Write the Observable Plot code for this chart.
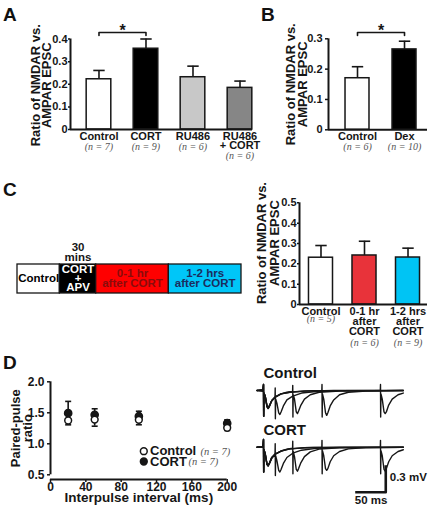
<!DOCTYPE html>
<html><head><meta charset="utf-8">
<script src="https://cdn.jsdelivr.net/npm/d3@7"></script>
<script src="https://cdn.jsdelivr.net/npm/@observablehq/plot@0.6"></script>
<style>
html,body{margin:0;padding:0;background:#fff;}
#fig{position:relative;width:430px;height:507px;overflow:hidden;font-family:"Liberation Sans",Arial,sans-serif;}
.letter{position:absolute;font-weight:bold;font-size:19px;line-height:1;color:#111;}
</style></head><body><div id="fig">
<div class="letter" style="left:3px;top:4.6px">A</div>
<div class="letter" style="left:261px;top:4.6px">B</div>
<div class="letter" style="left:3px;top:180px">C</div>
<div class="letter" style="left:3px;top:353.4px">D</div>
</div>
<script>
// ---------- Panel A ----------
const catsA = ["Control", "CORT", "RU486", "RU486 + CORT"];
const labelsA = ["Control", "CORT", "RU486", "RU486\n+ CORT"];
const nA = [7, 9, 6, 6];
const meanA = [0.222, 0.357, 0.231, 0.184];
const semA = [0.039, 0.043, 0.049, 0.030];
const fillA = ["#ffffff", "#000000", "#c8c8c8", "#868686"];
const ticksA = [0, 0.1, 0.2, 0.3, 0.4];

// ---------- Panel B ----------
const catsB = ["Control", "Dex"];
const labelsB = ["Control", "Dex"];
const nB = [6, 10];
const meanB = [0.170, 0.265];
const semB = [0.038, 0.027];
const fillB = ["#ffffff", "#000000"];
const ticksB = [0, 0.1, 0.2, 0.3];

// ---------- Panel C: protocol timeline ----------
const phases = ["Control", "CORT\n+\nAPV", "0-1 hr\nafter CORT", "1-2 hrs\nafter CORT"];
const phaseStart = [-35, 0, 30, 90];   // minutes
const phaseEnd = [0, 30, 90, 150];
const phaseFill = ["#ffffff", "#000000", "#ff0000", "#00c6f8"];
const phaseInk = ["#000000", "#ffffff", "#8a0c0c", "#1b2d5e"];
const durationLabel = "30\nmins";

// ---------- Panel C: bars ----------
const catsC = ["Control", "0-1 hr after CORT", "1-2 hrs after CORT"];
const labelsC = ["Control", "0-1 hr\nafter\nCORT", "1-2 hrs\nafter\nCORT"];
const nC = [5, 6, 9];
const meanC = [0.230, 0.241, 0.231];
const semC = [0.060, 0.070, 0.046];
const fillC = ["#ffffff", "#e8333a", "#00c4f4"];
const ticksC = [0, 0.1, 0.2, 0.3, 0.4, 0.5];

// ---------- Panel D: paired-pulse ratio ----------
const intervals = [20, 50, 100, 200];
const ctrlPPR = [1.376, 1.39, 1.387, 1.258];
const ctrlErr = [0.07, 0.106, 0.08, 0.043];
const cortPPR = [1.494, 1.468, 1.445, 1.332];
const cortErr = [0.19, 0.097, 0.08, 0.055];
const ticksDx = [0, 40, 80, 120, 160, 200];
const ticksDy = [0.5, 1.0, 1.5, 2.0];
const legendD = [{label: "Control", n: 7, filled: false}, {label: "CORT", n: 7, filled: true}];

// ---------- Panel D: example traces (time ms, mV) ----------
const ctrlSweeps = {
  20: [[-11,0],[-1,0.01],[0,0.07],[0.3,-0.3],[0.8,-0.03],[3,-0.07],[6,-0.19],[8,-0.21],[10,-0.18],[14,-0.12],[19.7,-0.08],[20,0.03],[20.3,-0.33],[20.8,-0.1],[23,-0.15],[26,-0.26],[28,-0.28],[30,-0.25],[34,-0.18],[40,-0.11],[50,-0.065],[65,-0.03],[90,-0.012],[130,-0.003],[239,0]],
  50: [[-11,0],[-1,-0.01],[0,0.07],[0.3,-0.3],[0.8,-0.03],[3,-0.07],[6,-0.18],[8,-0.2],[10,-0.18],[14,-0.12],[20,-0.075],[30,-0.04],[40,-0.02],[49.7,-0.01],[50,0.06],[50.3,-0.31],[50.8,-0.05],[53,-0.1],[56,-0.25],[58,-0.27],[60,-0.24],[64,-0.17],[70,-0.1],[80,-0.05],[95,-0.02],[130,-0.005],[239,0]],
  100: [[-11,0],[-1,0],[0,0.07],[0.3,-0.3],[0.8,-0.03],[3,-0.07],[6,-0.19],[8,-0.21],[10,-0.19],[14,-0.12],[20,-0.08],[30,-0.04],[45,-0.02],[70,-0.006],[99.7,0],[100,0.07],[100.3,-0.31],[100.8,-0.04],[103,-0.1],[106,-0.26],[108,-0.29],[110,-0.26],[114,-0.18],[120,-0.11],[130,-0.05],[145,-0.02],[175,-0.005],[239,0]],
  200: [[-11,0],[-1,0.01],[0,0.07],[0.3,-0.3],[0.8,-0.03],[3,-0.07],[6,-0.18],[8,-0.2],[10,-0.18],[14,-0.12],[20,-0.075],[30,-0.04],[45,-0.02],[70,-0.007],[120,0],[199.7,0],[200,0.07],[200.3,-0.31],[200.8,-0.04],[203,-0.1],[206,-0.25],[208,-0.27],[210,-0.25],[214,-0.17],[220,-0.1],[230,-0.05],[239,-0.03]]
};
const cortSweeps = {
  20: [[-11,0],[-1,0.01],[0,0.09],[0.3,-0.29],[0.8,-0.03],[3,-0.08],[6,-0.2],[8,-0.22],[10,-0.19],[14,-0.13],[19.7,-0.085],[20,0.04],[20.3,-0.33],[20.8,-0.1],[23,-0.16],[26,-0.27],[28,-0.29],[30,-0.26],[34,-0.19],[40,-0.12],[50,-0.07],[65,-0.035],[90,-0.014],[130,-0.004],[239,0]],
  50: [[-11,0],[-1,0],[0,0.09],[0.3,-0.29],[0.8,-0.03],[3,-0.08],[6,-0.2],[8,-0.21],[10,-0.19],[14,-0.12],[20,-0.08],[30,-0.045],[40,-0.022],[49.7,-0.012],[50,0.07],[50.3,-0.31],[50.8,-0.05],[53,-0.11],[56,-0.26],[58,-0.28],[60,-0.25],[64,-0.18],[70,-0.11],[80,-0.055],[95,-0.022],[130,-0.006],[239,0]],
  100: [[-11,0],[-1,0.01],[0,0.09],[0.3,-0.29],[0.8,-0.03],[3,-0.08],[6,-0.2],[8,-0.22],[10,-0.19],[14,-0.13],[20,-0.08],[30,-0.045],[45,-0.02],[70,-0.007],[99.7,0],[100,0.08],[100.3,-0.31],[100.8,-0.04],[103,-0.1],[106,-0.25],[108,-0.27],[110,-0.25],[114,-0.17],[120,-0.1],[130,-0.05],[145,-0.02],[175,-0.005],[239,0]],
  200: [[-11,0],[-1,0],[0,0.09],[0.3,-0.29],[0.8,-0.03],[3,-0.08],[6,-0.2],[8,-0.21],[10,-0.19],[14,-0.12],[20,-0.08],[30,-0.045],[45,-0.02],[70,-0.007],[120,0],[199.7,0],[200,0.08],[200.3,-0.31],[200.8,-0.04],[203,-0.1],[206,-0.26],[208,-0.28],[210,-0.25],[214,-0.17],[220,-0.1],[230,-0.05],[239,-0.03]]
};
const scaleBar = {t: 209, v: -0.525, ms: 50, mv: 0.3};

// ================= drawing =================
const FONT = '"Liberation Sans", Arial, sans-serif';
const SERIF = '"Liberation Serif", "Times New Roman", serif';
const INK = "#161616";
const fig = document.getElementById("fig");
function mount(svg, top) {
  svg.style.position = "absolute";
  svg.style.left = "0px";
  svg.style.top = top + "px";
  fig.appendChild(svg);
}
const baseStyle = {fontFamily: FONT, fontSize: "11px", fontWeight: "bold", color: INK, background: "transparent", overflow: "visible"};
const capSymbol = {draw(ctx, size) { const r = Math.sqrt(size / Math.PI); ctx.moveTo(-r, 0); ctx.lineTo(r, 0); }};
const title2 = ["Ratio of NMDAR vs.", "AMPAR EPSC"];
const rotTitle = {frameAnchor: "left", rotate: -90, textAnchor: "middle", lineAnchor: "middle", fontSize: 13, fill: INK};

function barPanel(c) {
  const rows = c.cats.map((cat, i) => ({
    i, cat, label: c.labels[i], n: c.n[i], mean: c.mean[i], top: c.mean[i] + c.sem[i],
    fill: c.fill[i], lines: c.labels[i].split("\n").length
  }));
  const yMax = c.ticks[c.ticks.length - 1];
  const marks = [
    Plot.ruleX(rows, {x: "i", y1: "mean", y2: "top", stroke: INK, strokeWidth: 1.6}),
    Plot.dot(rows, {x: "i", y: "top", symbol: capSymbol, r: c.capR, fill: "none", stroke: INK, strokeWidth: 1.6}),
    Plot.rectY(rows, {x1: d => d.i - c.half, x2: d => d.i + c.half, y1: 0, y2: "mean", fill: "fill", stroke: INK, strokeWidth: 1.5}),
    Plot.ruleY([0], {stroke: INK, strokeWidth: 2}),
    Plot.ruleX([c.xDomain[0]], {y1: 0, y2: yMax, stroke: INK, strokeWidth: 2}),
    Plot.axisY(c.ticks, {tickSize: c.tickSize, tickPadding: c.tickPadding, tickFormat: d => d === 0 ? "0" : d.toFixed(1), label: null, strokeWidth: 1.5, fontSize: 11}),
    Plot.text(rows, {x: "i", y: 0, text: "label", dy: c.labelDy, lineAnchor: "top", lineHeight: c.lineHeight, fontSize: 11, fill: INK}),
    ...Object.entries(c.nDy).map(([k, dy]) => Plot.text(rows, {
      filter: d => d.lines === +k, x: "i", y: 0, text: d => `(n = ${d.n})`, dy,
      fontFamily: SERIF, fontStyle: "italic", fontWeight: "normal", fontSize: 10, fill: "#555555"
    })),
    Plot.text([title2[0]], {...rotTitle, text: d => d, dx: c.titleDx[0], dy: c.titleDy}),
    Plot.text([title2[1]], {...rotTitle, text: d => d, dx: c.titleDx[1], dy: c.titleDy})
  ];
  if (c.bracket) {
    const b = c.bracket;
    marks.push(Plot.line([[b.from, b.yTick], [b.from, b.y], [b.to, b.y], [b.to, b.yTick]], {x: d => d[0], y: d => d[1], stroke: INK, strokeWidth: 1.6}));
    marks.push(Plot.text(["*"], {text: d => d, x: (b.from + b.to) / 2, y: b.starY, fontSize: 16, fill: INK}));
  }
  return Plot.plot({
    width: 430, height: c.height,
    marginTop: c.marginTop, marginBottom: c.marginBottom, marginLeft: c.marginLeft, marginRight: c.marginRight,
    style: baseStyle,
    color: {type: "identity"},
    x: {domain: c.xDomain, axis: null},
    y: {domain: [0, yMax]},
    marks
  });
}

// Panel A
mount(barPanel({
  cats: catsA, labels: labelsA, n: nA, mean: meanA, sem: semA, fill: fillA, ticks: ticksA,
  height: 165, marginTop: 38.5, marginBottom: 36, marginLeft: 70, marginRight: 178,
  xDomain: [-0.606, 3.266], half: 0.262, capR: 5.7, tickSize: 2, tickPadding: 1,
  labelDy: 4.3, lineHeight: 0.8, nDy: {1: 17.7, 2: 26},
  titleDx: [-35, -23.5], titleDy: 1,
  bracket: {from: 0, to: 1, y: 0.429, yTick: 0.416, starY: 0.434}
}), 0);

// Panel B
mount(barPanel({
  cats: catsB, labels: labelsB, n: nB, mean: meanB, sem: semB, fill: fillB, ticks: ticksB,
  height: 160, marginTop: 38.3, marginBottom: 30.7, marginLeft: 328, marginRight: 3,
  xDomain: [-0.617, 1.489], half: 0.255, capR: 5.7, tickSize: 3, tickPadding: 3,
  labelDy: 4, lineHeight: 0.8, nDy: {1: 17.4},
  titleDx: [-38, -26], titleDy: 0,
  bracket: {from: 0, to: 1, y: 0.321, yTick: 0.311, starY: 0.325}
}), 0);

// Panel C timeline
const segs = phases.map((label, i) => ({label, start: phaseStart[i], end: phaseEnd[i], fill: phaseFill[i], ink: phaseInk[i]}));
mount(Plot.plot({
  width: 430, height: 60, marginTop: 24, marginBottom: 7, marginLeft: 17, marginRight: 189,
  style: baseStyle,
  color: {type: "identity"},
  x: {domain: [-35, 150], axis: null},
  marks: [
    Plot.rect(segs, {x1: "start", x2: "end", fill: "fill", stroke: INK, strokeWidth: 1.3}),
    Plot.text(segs, {x: d => (d.start + d.end) / 2, text: "label", fill: "ink", fontSize: 11.5, lineHeight: 0.8, lineAnchor: "middle"}),
    Plot.text([segs[1]], {x: d => (d.start + d.end) / 2, text: () => durationLabel, frameAnchor: "top", lineAnchor: "middle", dy: -11.5, fontSize: 11.5, lineHeight: 0.8, fill: INK})
  ]
}), 240);

// Panel C bars
mount(barPanel({
  cats: catsC, labels: labelsC, n: nC, mean: meanC, sem: semC, fill: fillC, ticks: ticksC,
  height: 165, marginTop: 22.3, marginBottom: 41, marginLeft: 299, marginRight: 3,
  xDomain: [-0.494, 2.448], half: 0.276, capR: 5.7, tickSize: 2, tickPadding: 1,
  labelDy: 3.5, lineHeight: 0.92, nDy: {1: 14, 3: 38.7},
  titleDx: [-38, -24.5], titleDy: -10.6
}), 180);

// Panel D PPR
const ctrlRows = intervals.map((t, i) => ({t, m: ctrlPPR[i], e: ctrlPPR[i] - ctrlErr[i]}));
const cortRows = intervals.map((t, i) => ({t, m: cortPPR[i], e: cortPPR[i] + cortErr[i]}));
const legendMarks = [];
legendD.forEach((L, i) => {
  const dy = 69.4 + i * 10.3;
  legendMarks.push(Plot.dot([L], {frameAnchor: "top-left", dx: 93.3, dy, r: 3.4, fill: L.filled ? INK : "white", stroke: INK, strokeWidth: 1.5}));
  legendMarks.push(Plot.text([L], {frameAnchor: "top-left", lineAnchor: "middle", dx: 99.5, dy, text: "label", textAnchor: "start", fontSize: 13, fill: INK}));
  legendMarks.push(Plot.text([L], {frameAnchor: "top-left", lineAnchor: "middle", dx: L.filled ? 138 : 150, dy, text: d => `(n = ${d.n})`, textAnchor: "start", fontFamily: SERIF, fontStyle: "italic", fontWeight: "normal", fontSize: 10.5, fill: "#555555"}));
});
mount(Plot.plot({
  width: 430, height: 177, marginTop: 51.3, marginBottom: 28, marginLeft: 50, marginRight: 203.3,
  style: baseStyle,
  x: {domain: [0, 200]},
  y: {domain: [0.5, 2.0], range: [144.3, 51.3]},
  marks: [
    Plot.ruleX([0], {y1: 0.5, y2: 2.0, stroke: INK, strokeWidth: 2}),
    Plot.ruleY([ticksDy[0]], {dy: 4.7, stroke: INK, strokeWidth: 2}),
    Plot.axisX(ticksDx, {tickSize: 3, tickPadding: 0, label: null, fontSize: 12, strokeWidth: 1.5}),
    Plot.axisY(ticksDy, {tickSize: 3, tickPadding: 3, tickFormat: d => d.toFixed(1), label: null, fontSize: 12, strokeWidth: 1.5}),
    Plot.ruleX(cortRows, {x: "t", y1: "m", y2: "e", stroke: INK, strokeWidth: 1.6}),
    Plot.dot(cortRows, {x: "t", y: "e", symbol: capSymbol, r: 3, fill: "none", stroke: INK, strokeWidth: 1.6}),
    Plot.ruleX(ctrlRows, {x: "t", y1: "m", y2: "e", stroke: INK, strokeWidth: 1.6}),
    Plot.dot(ctrlRows, {x: "t", y: "e", symbol: capSymbol, r: 3, fill: "none", stroke: INK, strokeWidth: 1.6}),
    Plot.dot(cortRows, {x: "t", y: "m", r: 3.6, fill: INK, stroke: INK}),
    Plot.dot(ctrlRows, {x: "t", y: "m", r: 3.4, fill: "white", stroke: INK, strokeWidth: 1.5}),
    Plot.text(["Interpulse interval (ms)"], {text: d => d, frameAnchor: "bottom", lineAnchor: "middle", dy: 18.6, fontSize: 13.5, fill: INK}),
    Plot.text(["Paired-pulse"], {...rotTitle, text: d => d, dx: -35, dy: -2.4}),
    Plot.text(["ratio"], {...rotTitle, text: d => d, dx: -23, dy: -2.4}),
    ...legendMarks
  ]
}), 330);

// Panel D traces
function tracePlot(sweeps, label, yRange, withScale) {
  const pts = Object.entries(sweeps).flatMap(([k, arr]) => arr.map(([t, v]) => ({sweep: k, t, v})));
  const marks = [
    Plot.line(pts, {x: "t", y: "v", z: "sweep", stroke: INK, strokeWidth: 1.4, curve: "linear"}),
    Plot.text([label], {text: d => d, x: 0, y: 0, dy: -17, textAnchor: "start", fontSize: 15, fill: INK})
  ];
  if (withScale) {
    const s = scaleBar;
    marks.push(Plot.line([[s.t - s.ms, s.v], [s.t, s.v], [s.t, s.v + s.mv]], {x: d => d[0], y: d => d[1], stroke: INK, strokeWidth: 2.6, strokeLinecap: "square"}));
    marks.push(Plot.text([`${s.mv} mV`], {text: d => d, x: s.t, y: s.v + s.mv / 2, dx: 4, dy: -2, textAnchor: "start", fontSize: 11.5, fill: INK}));
    marks.push(Plot.text([`${s.ms} ms`], {text: d => d, x: s.t - s.ms / 2, y: s.v, dy: 8, fontSize: 11.5, fill: INK}));
  }
  return Plot.plot({
    width: 430, height: 177, marginTop: 0, marginBottom: 0, marginLeft: 0, marginRight: 0,
    style: baseStyle,
    x: {domain: [0, 200], range: [263, 380], axis: null},
    y: {domain: [0, -0.3], range: yRange, axis: null},
    marks
  });
}
mount(tracePlot(ctrlSweeps, "Control", [60, 85.7], false), 330);
mount(tracePlot(cortSweeps, "CORT", [116.7, 142.4], true), 330);
</script></body></html>
